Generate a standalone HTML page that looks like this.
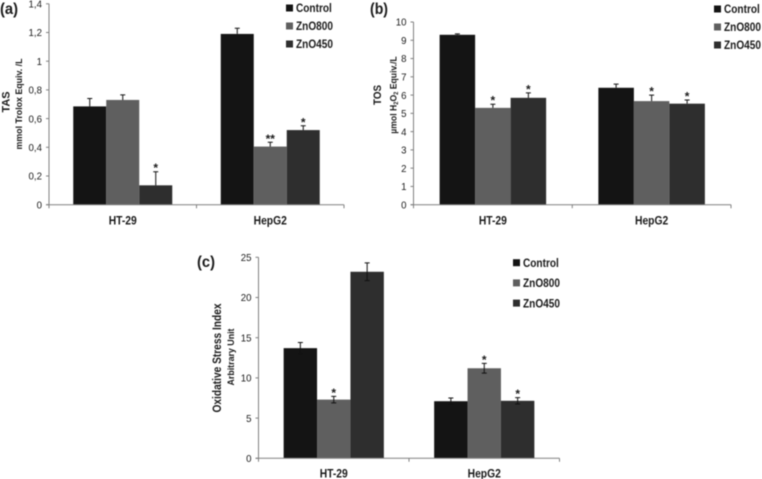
<!DOCTYPE html>
<html lang="en">
<head>
<meta charset="utf-8">
<title>TAS, TOS and Oxidative Stress Index</title>
<style>
html,body{margin:0;padding:0;background:#fff;width:762px;height:479px;overflow:hidden}
svg{display:block;filter:blur(.4px)}
text{font-family:"Liberation Sans",sans-serif;font-weight:bold;fill:#1a1a1a}
</style>
</head>
<body>
<svg id="figure" width="762" height="479" viewBox="0 0 762 479" xmlns="http://www.w3.org/2000/svg">
  <text x="0" y="14" font-size="16" textLength="18" lengthAdjust="spacingAndGlyphs">(a)</text>
  <text x="370" y="14" font-size="16" textLength="18" lengthAdjust="spacingAndGlyphs">(b)</text>
  <text x="197" y="267" font-size="16" textLength="18" lengthAdjust="spacingAndGlyphs">(c)</text>

  <text transform="translate(9.5,102) rotate(-90)" text-anchor="middle" font-size="11" textLength="21" lengthAdjust="spacingAndGlyphs">TAS</text>
  <text transform="translate(22,104) rotate(-90)" text-anchor="middle" font-size="9" textLength="91" lengthAdjust="spacingAndGlyphs">mmol Trolox Equiv. /L</text>

  <text transform="translate(381,95) rotate(-90)" text-anchor="middle" font-size="11" textLength="20" lengthAdjust="spacingAndGlyphs">TOS</text>
  <text transform="translate(396.5,95) rotate(-90) scale(.96,1)" text-anchor="middle" font-size="9">µmol H<tspan font-size="6" dy="1.5">2</tspan><tspan dy="-1.5">O</tspan><tspan font-size="6" dy="1.5">2</tspan><tspan dy="-1.5"> Equiv./L</tspan></text>

  <text transform="translate(221,358) rotate(-90)" text-anchor="middle" font-size="12" textLength="109" lengthAdjust="spacingAndGlyphs">Oxidative Stress Index</text>
  <text transform="translate(234,357) rotate(-90)" text-anchor="middle" font-size="9.5" textLength="57" lengthAdjust="spacingAndGlyphs">Arbitrary Unit</text>
</svg>
<script>
const categories = ['HT-29', 'HepG2'];
const seriesNames = ['Control', 'ZnO800', 'ZnO450'];

const tasTicks = ['0', '0,2', '0,4', '0,6', '0,8', '1', '1,2', '1,4'];
const tasControl = [0.685, 1.19];
const tasZnO800 = [0.73, 0.405];
const tasZnO450 = [0.135, 0.52];
const tasControlErr = [0.055, 0.04];
const tasZnO800Err = [0.035, 0.03];
const tasZnO450Err = [0.095, 0.03];
const tasControlStars = ['', ''];
const tasZnO800Stars = ['', '**'];
const tasZnO450Stars = ['*', '*'];

const tosTicks = ['0', '1', '2', '3', '4', '5', '6', '7', '8', '9', '10'];
const tosControl = [9.3, 6.4];
const tosZnO800 = [5.3, 5.67];
const tosZnO450 = [5.85, 5.53];
const tosControlErr = [0.05, 0.2];
const tosZnO800Err = [0.2, 0.33];
const tosZnO450Err = [0.27, 0.2];
const tosControlStars = ['', ''];
const tosZnO800Stars = ['*', '*'];
const tosZnO450Stars = ['*', '*'];

const osiTicks = ['0', '5', '10', '15', '20', '25'];
const osiControl = [13.7, 7.1];
const osiZnO800 = [7.3, 11.2];
const osiZnO450 = [23.2, 7.15];
const osiControlErr = [0.7, 0.4];
const osiZnO800Err = [0.4, 0.6];
const osiZnO450Err = [1.1, 0.4];
const osiControlStars = ['', ''];
const osiZnO800Stars = ['*', '*'];
const osiZnO450Stars = ['', '*'];

const SVG_NS = 'http://www.w3.org/2000/svg';
const figure = document.getElementById('figure');
const barColors = ['#141414', '#5f5f5f', '#2e2e2e'];
const axisColor = '#808080';

function make(tag, attrs, text) {
  const el = document.createElementNS(SVG_NS, tag);
  for (const k in attrs) el.setAttribute(k, attrs[k]);
  if (text !== undefined) el.textContent = text;
  figure.appendChild(el);
  return el;
}

function condense(el, factor) {
  el.setAttribute('textLength', el.getComputedTextLength() * factor);
  el.setAttribute('lengthAdjust', 'spacingAndGlyphs');
}

function drawPanel(p) {
  const yScale = v => p.y0 - (v / p.max) * (p.y0 - p.yTop);
  const bandWidth = (p.x1 - p.x0) / categories.length;
  const bandCenter = i => p.x0 + bandWidth * (i + 0.5);

  p.ticks.forEach(function (label) {
    const v = parseFloat(label.replace(',', '.'));
    const y = yScale(v);
    const tick = make('line', {x1: p.x0 - 3, x2: p.x0, y1: y, y2: y, stroke: axisColor, 'stroke-width': 1});
    
    
    const text = make('text', {x: p.x0 - 7, y: y + 3.7, 'text-anchor': 'end', 'font-size': 10.5, style: 'font-weight:normal'}, label);
    
    
    condense(text, 0.92);
  });

  p.series.forEach(function (values, s) {
    values.forEach(function (value, c) {
      const left = bandCenter(c) + (s - 1.5) * p.barWidth;
      const top = yScale(value);
      const bar = make('rect', {x: left, y: top, width: p.barWidth, height: p.y0 - top, fill: barColors[s]});
      
      

      const mid = left + p.barWidth / 2;
      const errTop = yScale(value + p.errors[s][c]);
      const errBottom = p.twoSided ? yScale(value - p.errors[s][c]) : top;
      const err = make('path', {
        d: 'M' + mid + ' ' + errBottom + 'V' + errTop + 'M' + (mid - 2.5) + ' ' + errTop + 'H' + (mid + 2.5) +
           (p.twoSided ? 'M' + (mid - 2.5) + ' ' + errBottom + 'H' + (mid + 2.5) : ''),
        stroke: '#111', 'stroke-width': 1, fill: 'none'
      });
      
      

      const mark = p.stars[s][c];
      if (mark) {
        const star = make('text', {x: mid, y: errTop + 0.5, 'text-anchor': 'middle', 'font-size': 12}, mark);
        
        
      }
    });
  });

  const yAxis = make('line', {x1: p.x0, x2: p.x0, y1: p.yTop, y2: p.y0, stroke: axisColor, 'stroke-width': 1});
  
  
  const xAxis = make('line', {x1: p.x0 - 3, x2: p.x1, y1: p.y0, y2: p.y0, stroke: axisColor, 'stroke-width': 1});
  
  

  for (let i = 0; i <= categories.length; i++) {
    const x = p.x0 + bandWidth * i;
    const xTick = make('line', {x1: x, x2: x, y1: p.y0, y2: p.y0 + 3.5, stroke: axisColor, 'stroke-width': 1});
    
    
  }

  categories.forEach(function (name, i) {
    const label = make('text', {x: bandCenter(i), y: p.catY, 'text-anchor': 'middle', 'font-size': 12}, name);
    
    
    condense(label, 0.86);
  });

  seriesNames.forEach(function (name, i) {
    const y = p.legendY + i * p.legendStep;
    const swatch = make('rect', {x: p.legendX, y: y - 3.5, width: 7, height: 7, fill: barColors[i]});
    
    
    const text = make('text', {x: p.legendX + 10, y: y + 4.2, 'font-size': 12}, name);
    
    
    condense(text, 0.84);
  });
}

drawPanel({
  id: 'tas', x0: 49, x1: 344, y0: 204.7, yTop: 3.8, max: 1.4, barWidth: 33, catY: 224.5,
  ticks: tasTicks,
  series: [tasControl, tasZnO800, tasZnO450],
  errors: [tasControlErr, tasZnO800Err, tasZnO450Err],
  stars: [tasControlStars, tasZnO800Stars, tasZnO450Stars],
  twoSided: false, legendX: 286, legendY: 8, legendStep: 18
});
drawPanel({
  id: 'tos', x0: 413.5, x1: 731, y0: 204.7, yTop: 22, max: 10, barWidth: 35.5, catY: 224.5,
  ticks: tosTicks,
  series: [tosControl, tosZnO800, tosZnO450],
  errors: [tosControlErr, tosZnO800Err, tosZnO450Err],
  stars: [tosControlStars, tosZnO800Stars, tosZnO450Stars],
  twoSided: false, legendX: 714, legendY: 9, legendStep: 18
});
drawPanel({
  id: 'osi', x0: 258.5, x1: 559.5, y0: 458.3, yTop: 257.3, max: 25, barWidth: 33.4, catY: 477.5,
  ticks: osiTicks,
  series: [osiControl, osiZnO800, osiZnO450],
  errors: [osiControlErr, osiZnO800Err, osiZnO450Err],
  stars: [osiControlStars, osiZnO800Stars, osiZnO450Stars],
  twoSided: true, legendX: 513, legendY: 262.7, legendStep: 20.2
});
</script>
</body>
</html>
